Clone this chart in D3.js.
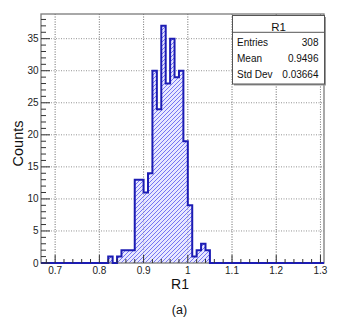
<!DOCTYPE html>
<html>
<head>
<meta charset="utf-8">
<script src="https://cdn.jsdelivr.net/npm/d3@7"></script>
<style>
  html, body { margin: 0; padding: 0; background: #fff; }
  svg { display: block; }
  text { font-family: "Liberation Sans", Arial, Helvetica, sans-serif; }
</style>
</head>
<body>
<svg id="chart" width="346" height="325"></svg>
<script>
// ---- data ----
const binStarts = [0.82, 0.83, 0.84, 0.85, 0.86, 0.87, 0.88, 0.89, 0.90, 0.91,
                   0.92, 0.93, 0.94, 0.95, 0.96, 0.97, 0.98, 0.99, 1.00, 1.01,
                   1.02, 1.03, 1.04];
const counts = [1, 0, 1, 2, 2, 2, 13, 13, 11, 14,
                30, 24, 37, 28, 35, 29, 30, 19, 9, 1,
                2, 3, 2];
const binWidth = 0.01;
const xRange = [0.668, 1.308];
const yMax = 38.85;
const xTickLabels = ["0.7", "0.8", "0.9", "1", "1.1", "1.2", "1.3"];
const xTickValues = [0.7, 0.8, 0.9, 1.0, 1.1, 1.2, 1.3];
const yTickValues = [0, 5, 10, 15, 20, 25, 30, 35];
const statsTitle = "R1";
const statsLabels = ["Entries", "Mean", "Std Dev"];
const statsValues = ["308", "0.9496", "0.03664"];
const xTitle = "R1";
const yTitle = "Counts";
const caption = "(a)";

// ---- layout ----
const L = 41, R = 324, T = 14, B = 263;
const svg = d3.select("#chart");
const x = d3.scaleLinear().domain(xRange).range([L, R]);
const y = d3.scaleLinear().domain([0, yMax]).range([B, T]);

const blue = "#1c1cb4";

// hatch pattern
const defs = svg.append("defs");
const pat = defs.append("pattern")
  .attr("id", "hatch").attr("patternUnits", "userSpaceOnUse")
  .attr("width", 4).attr("height", 4);
pat.append("rect").attr("width", 4).attr("height", 4).attr("fill", "#e8e8ff");
pat.append("path").attr("d", "M-1,1 L1,-1 M0,4 L4,0 M3,5 L5,3")
  .attr("stroke", "#7676f2").attr("stroke-width", 1);

// grid
const gridColor = "#777";
svg.append("g").selectAll("line").data(xTickValues).join("line")
  .attr("x1", d => x(d)).attr("x2", d => x(d)).attr("y1", T).attr("y2", B)
  .attr("stroke", gridColor).attr("stroke-width", 0.8).attr("stroke-dasharray", "1,1.5");
svg.append("g").selectAll("line").data(yTickValues.filter(v => v > 0)).join("line")
  .attr("x1", L).attr("x2", R).attr("y1", d => y(d)).attr("y2", d => y(d))
  .attr("stroke", gridColor).attr("stroke-width", 0.8).attr("stroke-dasharray", "1,1.5");

// histogram points
const pts = [[xRange[0], 0]];
binStarts.forEach((b, i) => pts.push([b, counts[i]]));
pts.push([binStarts[binStarts.length - 1] + binWidth, 0]);
pts.push([xRange[1], 0]);

const area = d3.area().x(d => x(d[0])).y0(y(0)).y1(d => y(d[1])).curve(d3.curveStepAfter);
svg.append("path").attr("d", area(pts)).attr("fill", "url(#hatch)");

// grid over fill (visible through hatch as in reference)
svg.append("g").selectAll("line").data(xTickValues).join("line")
  .attr("x1", d => x(d)).attr("x2", d => x(d)).attr("y1", T).attr("y2", B)
  .attr("stroke", gridColor).attr("stroke-opacity", 0.6).attr("stroke-width", 0.8).attr("stroke-dasharray", "1,1.5");

// frame
svg.append("rect").attr("x", L).attr("y", T).attr("width", R - L).attr("height", B - T)
  .attr("fill", "none").attr("stroke", "#7a7a7a").attr("stroke-width", 1.3);

const line = d3.line().x(d => x(d[0])).y(d => y(d[1])).curve(d3.curveStepAfter);
svg.append("path").attr("d", line(pts)).attr("fill", "none")
  .attr("stroke", blue).attr("stroke-width", 2);

// x axis ticks
const xMinor = d3.range(0, 40).map(i => +(0.68 + i * 0.02).toFixed(2)).filter(v => v >= xRange[0] && v <= xRange[1]);
svg.append("g").selectAll("line").data(xMinor).join("line")
  .attr("x1", d => x(d)).attr("x2", d => x(d))
  .attr("y1", B).attr("y2", d => B - (xTickValues.some(t => Math.abs(t - d) < 1e-6) ? 8 : 4))
  .attr("stroke", "#333").attr("stroke-width", 1);
svg.append("g").selectAll("text").data(xTickValues).join("text")
  .attr("x", d => x(d)).attr("y", 273.5).attr("text-anchor", "middle")
  .attr("font-size", 10).attr("fill", "#222")
  .text((d, i) => xTickLabels[i]);

// y axis ticks
const yMinor = d3.range(0, 39);
svg.append("g").selectAll("line").data(yMinor).join("line")
  .attr("x1", L).attr("x2", d => L + (d % 5 === 0 ? 9 : 5))
  .attr("y1", d => y(d)).attr("y2", d => y(d))
  .attr("stroke", "#333").attr("stroke-width", 1);
svg.append("g").selectAll("text").data(yTickValues).join("text")
  .attr("x", 38.5).attr("y", d => y(d) + 3.5).attr("text-anchor", "end")
  .attr("font-size", 10).attr("fill", "#222")
  .text(d => d);

// axis titles
svg.append("text").attr("x", 180).attr("y", 289).attr("text-anchor", "middle")
  .attr("font-size", 14).attr("fill", "#111").text(xTitle);
svg.append("text").attr("transform", "translate(22.5,143.5) rotate(-90)")
  .attr("text-anchor", "middle").attr("font-size", 14.5).attr("fill", "#111").text(yTitle);

// stats box
const sx0 = 232.5, sx1 = 324.5, sy0 = 15.5, sy1 = 84, sSep = 32.3;
svg.append("rect").attr("x", sx0 + 1.5).attr("y", sy0 + 1.5).attr("width", sx1 - sx0).attr("height", sy1 - sy0)
  .attr("fill", "#999");
svg.append("rect").attr("x", sx0).attr("y", sy0).attr("width", sx1 - sx0).attr("height", sy1 - sy0)
  .attr("fill", "#fff").attr("stroke", "#555").attr("stroke-width", 1);
svg.append("line").attr("x1", sx0).attr("x2", sx1).attr("y1", sSep).attr("y2", sSep)
  .attr("stroke", "#555").attr("stroke-width", 1);
svg.append("text").attr("x", (sx0 + sx1) / 2).attr("y", 30.5).attr("text-anchor", "middle")
  .attr("font-size", 11.5).attr("fill", "#111").text(statsTitle);
const rowY = [45.5, 62, 77.5];
svg.append("g").selectAll("text").data(statsLabels).join("text")
  .attr("x", 237).attr("y", (d, i) => rowY[i]).attr("font-size", 10)
  .attr("fill", "#111").text(d => d);
svg.append("g").selectAll("text").data(statsValues).join("text")
  .attr("x", 318.5).attr("y", (d, i) => rowY[i]).attr("text-anchor", "end").attr("font-size", 10)
  .attr("fill", "#111").text(d => d);

// caption
svg.append("text").attr("x", 179.5).attr("y", 314).attr("text-anchor", "middle")
  .attr("font-size", 12.5).attr("fill", "#111").text(caption);
</script>
</body>
</html>
